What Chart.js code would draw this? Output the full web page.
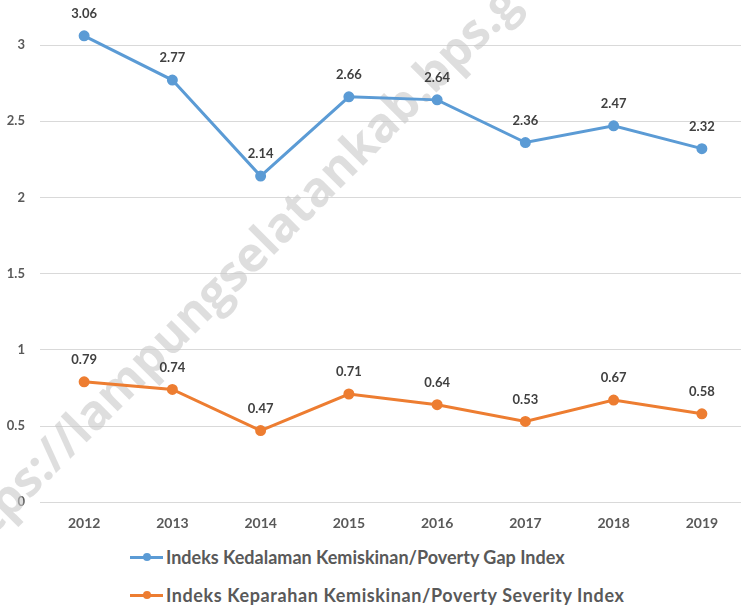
<!DOCTYPE html>
<html>
<head>
<meta charset="utf-8">
<script src="https://cdn.jsdelivr.net/npm/chart.js@4.4.1/dist/chart.umd.min.js"></script>
<style>
  html, body { margin: 0; padding: 0; background: #fff; overflow: hidden; }
  body { width: 741px; height: 607px; position: relative; font-family: Lato, "Open Sans", sans-serif; }
  #wrap { position: absolute; left: 0; top: -54px; width: 753px; height: 591px; }
  .leg { position: absolute; left: 130px; height: 22px; display: flex; align-items: center;
         font: bold 18px Lato, sans-serif; color: #595959; white-space: nowrap; }
  .mk { position: relative; width: 33px; height: 3px; margin-right: 3px; }
  .mk i { position: absolute; left: 13px; top: -2.5px; width: 8px; height: 8px; border-radius: 50%; }
</style>
</head>
<body>
<div id="wrap"><canvas id="chart"></canvas></div>
<div class="leg" style="top:546px"><span class="mk" style="background:#5B9BD5"><i style="background:#5B9BD5"></i></span><span id="leg0"></span></div>
<div class="leg" style="top:584px"><span class="mk" style="background:#ED7D31"><i style="background:#ED7D31"></i></span><span id="leg1" style="letter-spacing:0.6px"></span></div>
<script>
const years = ['2012', '2013', '2014', '2015', '2016', '2017', '2018', '2019'];
const gapIndex = [3.06, 2.77, 2.14, 2.66, 2.64, 2.36, 2.47, 2.32];
const severityIndex = [0.79, 0.74, 0.47, 0.71, 0.64, 0.53, 0.67, 0.58];
const seriesNames = [
  'Indeks Kedalaman Kemiskinan/Poverty Gap Index',
  'Indeks Keparahan Kemiskinan/Poverty Severity Index'
];
const watermark = 'https://lampungselatankab.bps.go.id';

const textColor = '#595959';

document.getElementById('leg0').textContent = seriesNames[0];
document.getElementById('leg1').textContent = seriesNames[1];

// values above each point
const valueLabels = {
  id: 'valueLabels',
  afterDatasetsDraw(chart) {
    const ctx = chart.ctx;
    ctx.save();
    ctx.font = 'bold 13px Lato, sans-serif';
    ctx.fillStyle = '#404040';
    ctx.textAlign = 'center';
    ctx.textBaseline = 'middle';
    chart.data.datasets.forEach((ds, i) => {
      chart.getDatasetMeta(i).data.forEach((pt, j) => {
        ctx.fillText(ds.data[j].toFixed(2), pt.x, pt.y - 22);
      });
    });
    ctx.restore();
  }
};

// diagonal site watermark, behind the lines
const watermarkText = {
  id: 'watermarkText',
  beforeDatasetsDraw(chart) {
    const ctx = chart.ctx;
    ctx.save();
    // size the font so the middle part spans about 594px like the original
    ctx.font = 'bold 40px "Open Sans", sans-serif';
    const w = ctx.measureText('lampungselatankab.bps.').width;
    const size = 40 * 594 / w;
    ctx.font = 'bold ' + size.toFixed(1) + 'px "Open Sans", sans-serif';
    const lead = ctx.measureText('https://').width;
    const a = 45 * Math.PI / 180;
    // canvas sits 54px above the page
    const ox = 84 - lead * Math.cos(a);
    const oy = 445 + 54 + lead * Math.sin(a);
    ctx.translate(ox, oy);
    ctx.rotate(-a);
    ctx.fillStyle = 'rgba(200,200,200,0.6)';
    ctx.textBaseline = 'alphabetic';
    ctx.fillText(watermark, 0, 0);
    ctx.restore();
  }
};

new Chart(document.getElementById('chart'), {
  type: 'line',
  data: {
    labels: years,
    datasets: [
      {
        label: seriesNames[0],
        data: gapIndex,
        borderColor: '#5B9BD5',
        backgroundColor: '#5B9BD5',
        borderWidth: 3,
        pointRadius: 4,
        tension: 0
      },
      {
        label: seriesNames[1],
        data: severityIndex,
        borderColor: '#ED7D31',
        backgroundColor: '#ED7D31',
        borderWidth: 3,
        pointRadius: 4,
        tension: 0
      }
    ]
  },
  options: {
    responsive: true,
    maintainAspectRatio: false,
    animation: false,
    layout: { padding: { top: 9, right: 0, left: 0, bottom: 0 } },
    plugins: { legend: { display: false }, tooltip: { enabled: false } },
    scales: {
      x: {
        offset: true,
        grid: { display: false },
        border: { display: false },
        ticks: { color: textColor, font: { family: 'Lato', weight: 'bold', size: 14 }, padding: 5 }
      },
      y: {
        min: 0,
        max: 3.5,
        afterFit(axis) { axis.width = 40; },
        grid: { color: '#d9d9d9', drawTicks: false },
        border: { display: false },
        ticks: {
          stepSize: 0.5,
          color: textColor,
          font: { family: 'Lato', weight: 'bold', size: 13 },
          padding: 15,
          callback: v => String(v)
        }
      }
    }
  },
  plugins: [valueLabels, watermarkText]
});
</script>
</body>
</html>
